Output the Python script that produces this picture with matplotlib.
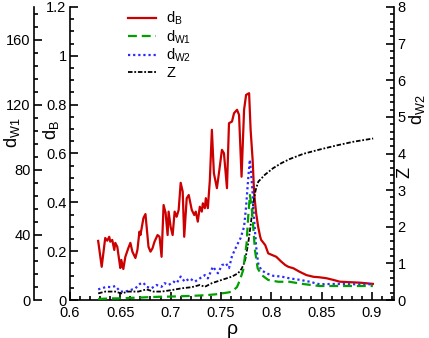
import matplotlib
matplotlib.use("Agg")
import matplotlib.pyplot as plt
from matplotlib.ticker import AutoMinorLocator, MultipleLocator, FormatStrFormatter

plt.rcParams['font.family'] = ['Liberation Sans', 'DejaVu Sans']
plt.rcParams['mathtext.default'] = 'regular'

# d_B (left inner axis)
rho_b = [0.628, 0.6315, 0.635, 0.637, 0.639, 0.640, 0.642, 0.644, 0.645, 0.647,
         0.650, 0.651, 0.653, 0.655, 0.658, 0.660, 0.662, 0.665, 0.667, 0.669,
         0.670, 0.673, 0.675, 0.678, 0.680, 0.682, 0.684, 0.687, 0.689, 0.691,
         0.693, 0.695, 0.697, 0.698, 0.700, 0.702, 0.704, 0.706, 0.708, 0.710,
         0.712, 0.7135, 0.716, 0.718, 0.721, 0.7235, 0.725, 0.727, 0.729, 0.731,
         0.732, 0.734, 0.735, 0.737, 0.739, 0.741, 0.743, 0.746, 0.748, 0.751,
         0.753, 0.756, 0.758, 0.761, 0.763, 0.766, 0.768, 0.7705, 0.773, 0.775,
         0.778, 0.7795, 0.7815, 0.783, 0.785, 0.787, 0.789, 0.790, 0.794, 0.797,
         0.801, 0.805, 0.810, 0.814, 0.817, 0.822, 0.828, 0.835, 0.842, 0.848,
         0.855, 0.862, 0.868, 0.878, 0.888, 0.901]
d_b = [0.242, 0.136, 0.254, 0.243, 0.259, 0.239, 0.246, 0.205, 0.234, 0.218,
       0.131, 0.164, 0.127, 0.177, 0.213, 0.234, 0.198, 0.172, 0.205, 0.280,
       0.266, 0.336, 0.352, 0.218, 0.198, 0.212, 0.239, 0.266, 0.259, 0.177,
       0.389, 0.357, 0.266, 0.362, 0.300, 0.266, 0.362, 0.341, 0.369, 0.480,
       0.444, 0.259, 0.417, 0.430, 0.369, 0.348, 0.362, 0.321, 0.382, 0.362,
       0.396, 0.376, 0.417, 0.376, 0.492, 0.697, 0.519, 0.458, 0.519, 0.615,
       0.601, 0.458, 0.724, 0.731, 0.765, 0.779, 0.758, 0.505, 0.779, 0.840,
       0.847, 0.697, 0.574, 0.437, 0.355, 0.300, 0.259, 0.246, 0.225, 0.191,
       0.184, 0.177, 0.157, 0.143, 0.136, 0.130, 0.116, 0.102, 0.095, 0.093,
       0.089, 0.082, 0.075, 0.073, 0.071, 0.066]

# d_W1 (left outer axis)
rho_w1 = [0.628, 0.64, 0.65, 0.66, 0.67, 0.68, 0.69, 0.70, 0.71, 0.72,
          0.73, 0.7375, 0.745, 0.751, 0.756, 0.761, 0.766, 0.7689, 0.7721, 0.7755,
          0.7771, 0.7788, 0.7805, 0.7821, 0.7838, 0.7865, 0.7904, 0.797, 0.807, 0.818,
          0.832, 0.848, 0.865, 0.881, 0.901]
d_w1 = [0.6, 1.0, 1.0, 1.3, 1.5, 1.8, 2.0, 2.1, 2.3, 2.5,
        2.8, 3.1, 3.5, 4.1, 4.5, 5.1, 8.0, 12.3, 18.4, 34.8,
        51.2, 64.5, 57.3, 45.0, 30.7, 19.5, 15.4, 12.3, 11.2, 11.2,
        9.8, 8.6, 8.6, 8.6, 8.6]

# d_W2 and Z (right axis)
rho_w2 = [0.628, 0.6315, 0.6365, 0.641, 0.645, 0.650, 0.655, 0.660, 0.665, 0.6695,
          0.673, 0.676, 0.681, 0.686, 0.691, 0.694, 0.698, 0.703, 0.706, 0.710,
          0.714, 0.719, 0.724, 0.729, 0.734, 0.737, 0.742, 0.747, 0.751, 0.755,
          0.758, 0.761, 0.766, 0.7695, 0.773, 0.775, 0.777, 0.7787, 0.780, 0.7815,
          0.783, 0.785, 0.787, 0.790, 0.795, 0.802, 0.810, 0.8185, 0.8285, 0.838,
          0.848, 0.865, 0.881, 0.901]
d_w2 = [0.29, 0.32, 0.36, 0.35, 0.38, 0.23, 0.23, 0.27, 0.32, 0.44,
        0.47, 0.36, 0.32, 0.41, 0.36, 0.46, 0.41, 0.50, 0.46, 0.64,
        0.50, 0.59, 0.50, 0.59, 0.68, 0.59, 0.91, 0.73, 0.95, 1.0,
        0.87, 1.2, 1.50, 1.69, 2.0, 2.55, 3.28, 3.83, 3.46, 2.92,
        2.19, 1.46, 1.00, 0.82, 0.73, 0.66, 0.64, 0.59, 0.55, 0.50,
        0.43, 0.44, 0.43, 0.43]

rho_z = [0.628, 0.635, 0.645, 0.651, 0.658, 0.668, 0.676, 0.683, 0.691, 0.701,
         0.711, 0.721, 0.729, 0.734, 0.741, 0.751, 0.761, 0.767, 0.7705, 0.7738,
         0.7771, 0.7798, 0.7821, 0.7845, 0.7871, 0.7937, 0.8019, 0.8103, 0.8185, 0.8318,
         0.8483, 0.8649, 0.8814, 0.9013]
z = [0.18, 0.23, 0.23, 0.18, 0.23, 0.23, 0.29, 0.23, 0.23, 0.27,
     0.32, 0.35, 0.41, 0.36, 0.46, 0.55, 0.64, 0.73, 0.85, 1.05,
     1.55, 2.10, 2.64, 3.0, 3.23, 3.42, 3.6, 3.74, 3.85, 3.99,
     4.11, 4.22, 4.32, 4.41]

fig = plt.figure(figsize=(4.29, 3.38), dpi=100)
ax = fig.add_axes([70/429, 1-300/338, 324/429, 293/338])
ax2 = ax.twinx()   # right: d_W2, Z
ax3 = ax.twinx()   # left outer: d_W1

lb, = ax.plot(rho_b, d_b, color='#cc0000', lw=1.6, label='d$_B$')
lw1, = ax3.plot(rho_w1, d_w1, color='#00a000', lw=1.6, dashes=[4, 2.2], label='d$_{W1}$')
lw2, = ax2.plot(rho_w2, d_w2, color='#2b2bff', lw=1.6, dashes=[1, 1.3], label='d$_{W2}$')
lz, = ax2.plot(rho_z, z, color='black', lw=1.3, dashes=[2.5, 1, 1, 1], label='Z')

ax.set_xlim(0.6, 0.922)
ax.set_ylim(0, 1.2)
ax2.set_ylim(0, 8)
ax3.set_ylim(0, 180)

ax.xaxis.set_major_locator(MultipleLocator(0.05))
ax.xaxis.set_minor_locator(MultipleLocator(0.01))
ax.xaxis.set_major_formatter(FormatStrFormatter('%g'))
ax.yaxis.set_major_locator(MultipleLocator(0.2))
ax.yaxis.set_minor_locator(AutoMinorLocator(4))
ax.yaxis.set_major_formatter(FormatStrFormatter('%g'))
ax2.yaxis.set_major_locator(MultipleLocator(1))
ax2.yaxis.set_minor_locator(AutoMinorLocator(5))
ax3.yaxis.set_major_locator(MultipleLocator(40))
ax3.yaxis.set_minor_locator(AutoMinorLocator(5))

ax3.yaxis.tick_left()
ax3.spines['left'].set_position(('axes', -36/324))

for a in (ax, ax2, ax3):
    a.spines['top'].set_visible(False)
    a.tick_params(which='both', direction='in', labelsize=10.5, width=1.2, pad=2.5)
    a.tick_params(which='major', length=6)
    a.tick_params(which='minor', length=3)
ax.tick_params(axis='x', pad=4)
ax.spines['right'].set_visible(False)
ax2.spines['left'].set_visible(False)
ax2.spines['bottom'].set_visible(False)
ax3.spines['right'].set_visible(False)
ax3.spines['bottom'].set_visible(False)
for a, s in ((ax, 'left'), (ax, 'bottom'), (ax2, 'right'), (ax3, 'left')):
    a.spines[s].set_linewidth(1.2)

ax.set_xlabel('ρ', fontsize=14, labelpad=1)
ax.text(-0.059, 0.58, 'd$_B$', transform=ax.transAxes, rotation=90,
        ha='center', va='center', fontsize=13)
ax.text(-0.179, 0.57, 'd$_{W1}$', transform=ax.transAxes, rotation=90,
        ha='center', va='center', fontsize=13)
ax.text(1.034, 0.437, 'Z', transform=ax.transAxes, rotation=90,
        ha='center', va='center', fontsize=13)
ax.text(1.072, 0.65, 'd$_{W2}$', transform=ax.transAxes, rotation=90,
        ha='center', va='center', fontsize=13)

ax.legend(handles=[lb, lw1, lw2, lz], loc='upper left', bbox_to_anchor=(0.18, 0.99),
          frameon=False, fontsize=10.5, handlelength=1.9, handletextpad=0.7,
          borderpad=0, borderaxespad=0, labelspacing=0.08)

fig.savefig('out.png', dpi=100)
